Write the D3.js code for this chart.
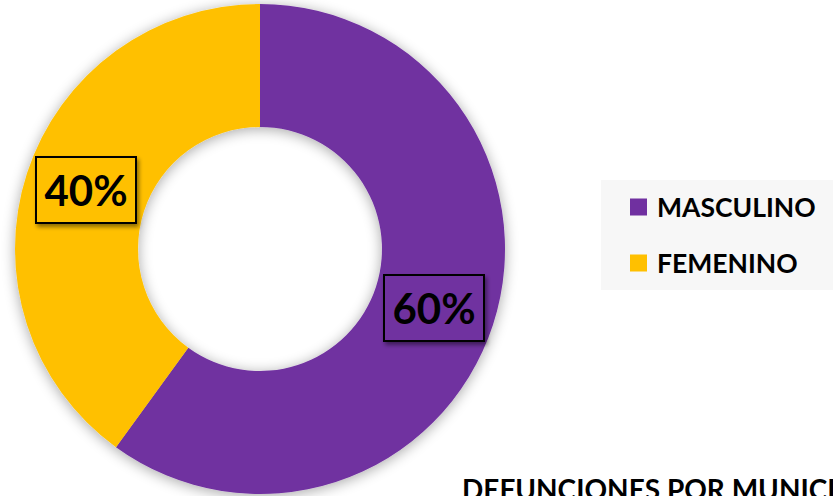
<!DOCTYPE html>
<html><head><meta charset="utf-8">
<script src="https://cdn.jsdelivr.net/npm/d3@7"></script>
<style>body{margin:0;background:#fff}svg{display:block}</style>
</head><body>
<svg id="c" width="833" height="496"></svg>
<script>
const categories = ["MASCULINO", "FEMENINO"];
const values = [60, 40];
const labels = ["60%", "40%"];
const colors = ["#7030A0", "#FFC000"];
const title = "DEFUNCIONES POR MUNICIPIO";

const svg = d3.select("#c");
const font = "Lato, 'Open Sans', sans-serif";
const defs = svg.append("defs");
function shadow(id, sd, dx, dy, op) {
  const f = defs.append("filter").attr("id",id).attr("x","-20%").attr("y","-20%").attr("width","140%").attr("height","140%");
  f.append("feGaussianBlur").attr("in","SourceAlpha").attr("stdDeviation",sd).attr("result","b");
  f.append("feOffset").attr("in","b").attr("dx",dx).attr("dy",dy).attr("result","o");
  f.append("feComponentTransfer").attr("in","o").attr("result","o2").append("feFuncA").attr("type","linear").attr("slope",op);
  const m = f.append("feMerge"); m.append("feMergeNode").attr("in","o2"); m.append("feMergeNode").attr("in","SourceGraphic");
}
shadow("sh", 7, 0, 2, 0.35);
shadow("sh2", 2, 2, 3, 0.45);

const cx = 260, cy = 249, R = 245, r = 122;
const pie = d3.pie().sort(null).value(d => d)(values);
const arc = d3.arc().innerRadius(r).outerRadius(R);
const g = svg.append("g").attr("transform",`translate(${cx},${cy})`);
g.append("g").attr("filter","url(#sh)").selectAll("path").data(pie).join("path")
  .attr("d", arc).attr("fill", (d,i) => colors[i]);

// data labels
const labelPos = [[174, 59], [-174, -59]];
pie.forEach((d,i) => {
  const [lx, ly] = labelPos[i];
  const lg = g.append("g").attr("transform",`translate(${lx},${ly})`);
  lg.append("rect").attr("x",-50).attr("y",-33).attr("width",100).attr("height",66)
    .attr("fill",colors[i]).attr("stroke","#000").attr("stroke-width",2).attr("filter","url(#sh2)");
  lg.append("text").attr("text-anchor","middle").attr("y",15.5)
    .attr("font-family",font).attr("font-weight","bold").attr("font-size",42)
    .attr("fill","#000").text(labels[i]);
});

// legend
const leg = svg.append("g");
leg.append("rect").attr("x",601).attr("y",180).attr("width",232).attr("height",110).attr("fill","#f7f7f7");
categories.forEach((c,i) => {
  const y = 207 + i*56;
  leg.append("rect").attr("x",630).attr("y",y-8.5).attr("width",17).attr("height",17).attr("fill",colors[i]);
  leg.append("text").attr("x",657).attr("y",y+9.5).attr("font-family",font).attr("font-weight","bold")
    .attr("font-size",26.5).attr("fill","#000").text(c);
});

svg.append("text").attr("x",462).attr("y",500).attr("font-family",font).attr("font-weight","bold")
  .attr("font-size",28).attr("fill","#000").text(title);
</script>
</body></html>
